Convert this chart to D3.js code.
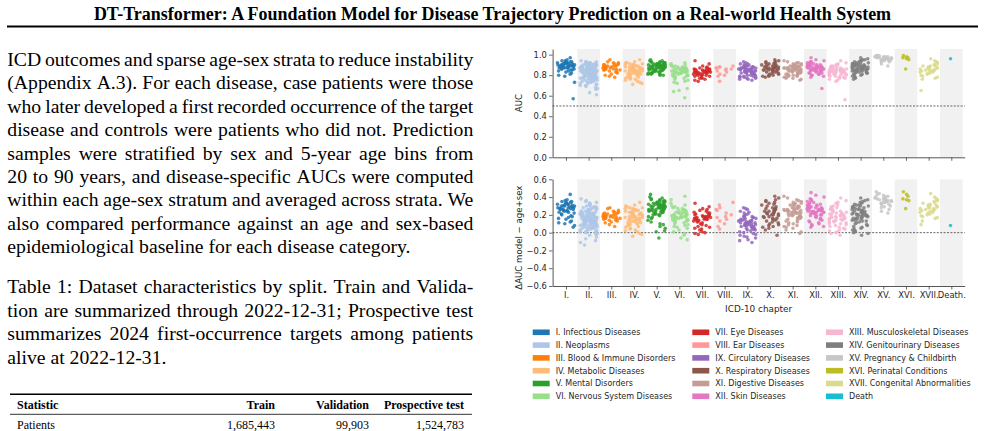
<!DOCTYPE html>
<html>
<head>
<meta charset="utf-8">
<script src="https://cdn.jsdelivr.net/npm/d3@7"></script>
<style>
  body { margin: 0; background: #fff; }
  svg { display: block; }
</style>
</head>
<body>
<div id="container"></div>
<script>
const width = 985, height = 431;

// ---- text of the page ----
const titleText = "DT-Transformer: A Foundation Model for Disease Trajectory Prediction on a Real-world Health System";
const bodyLines = [
  "ICD outcomes and sparse age-sex strata to reduce instability",
  "(Appendix A.3). For each disease, case patients were those",
  "who later developed a first recorded occurrence of the target",
  "disease and controls were patients who did not. Prediction",
  "samples were stratified by sex and 5-year age bins from",
  "20 to 90 years, and disease-specific AUCs were computed",
  "within each age-sex stratum and averaged across strata. We",
  "also compared performance against an age and sex-based",
  "epidemiological baseline for each disease category."
];
const captionLines = [
  "Table 1: Dataset characteristics by split. Train and Valida-",
  "tion are summarized through 2022-12-31; Prospective test",
  "summarizes 2024 first-occurrence targets among patients",
  "alive at 2022-12-31."
];
const tableHeader = ["Statistic", "Train", "Validation", "Prospective test"];
const tableRow = ["Patients", "1,685,443", "99,903", "1,524,783"];

// ---- chart categories ----
const chapters = ["I.","II.","III.","IV.","V.","VI.","VII.","VIII.","IX.","X.","XI.","XII.","XIII.","XIV.","XV.","XVI.","XVII.","Death."];
const chapterNames = ["I. Infectious Diseases","II. Neoplasms","III. Blood & Immune Disorders","IV. Metabolic Diseases",
  "V. Mental Disorders","VI. Nervous System Diseases","VII. Eye Diseases","VIII. Ear Diseases","IX. Circulatory Diseases",
  "X. Respiratory Diseases","XI. Digestive Diseases","XII. Skin Diseases","XIII. Musculoskeletal Diseases",
  "XIV. Genitourinary Diseases","XV. Pregnancy & Childbirth","XVI. Perinatal Conditions","XVII. Congenital Abnormalities","Death"];
const chapterColors = ["#1f77b4","#aec7e8","#ff7f0e","#ffbb78","#2ca02c","#98df8a","#d62728","#ff9896","#9467bd",
  "#8c564b","#c49c94","#e377c2","#f7b6d2","#7f7f7f","#c7c7c7","#bcbd22","#dbdb8d","#17becf"];
const aucTicks = [0, 0.2, 0.4, 0.6, 0.8, 1.0];
const deltaTicks = [-0.6, -0.4, -0.2, 0, 0.2, 0.4, 0.6];

// ---- AUC per disease, by chapter ----
const aucI = [.97,.95,.94,.94,.93,.93,.93,.92,.92,.92,.92,.91,.91,.91,.91,.91,.90,.90,.90,.90,.90,.90,.89,.89,.89,.89,.89,.88,.88,.88,.88,.88,.87,.87,.87,.87,.86,.86,.86,.85,.85,.84,.84,.83,.82,.81,.80,.79,.73,.57];
const aucII = [.94,.93,.93,.93,.92,.92,.92,.92,.91,.91,.91,.91,.90,.90,.90,.90,.90,.89,.89,.89,.89,.89,.88,.88,.88,.88,.88,.87,.87,.87,.87,.87,.87,.86,.86,.86,.86,.86,.86,.85,.85,.85,.85,.85,.85,.84,.84,.84,.84,.84,.84,.83,.83,.83,.83,.83,.83,.82,.82,.82,.82,.82,.81,.81,.81,.81,.81,.80,.80,.80,.80,.80,.79,.79,.79,.79,.78,.78,.78,.78,.77,.77,.77,.77,.76,.76,.76,.75,.75,.75,.74,.74,.74,.73,.73,.72,.72,.71,.71,.70,.70,.69,.68,.67,.66,.63,.61,.86,.85,.84,.83,.82,.81,.80,.79,.88,.87,.90,.89,.78,.77,.76,.91,.84,.83,.82,.81];
const aucIII = [.95,.93,.92,.92,.91,.91,.90,.90,.90,.89,.89,.89,.88,.88,.88,.88,.87,.87,.87,.87,.86,.86,.86,.86,.85,.85,.85,.84,.84,.83,.82,.81,.80,.79,.78];
const aucIV = [.95,.93,.92,.92,.91,.91,.90,.90,.90,.89,.89,.89,.88,.88,.88,.88,.87,.87,.87,.87,.87,.86,.86,.86,.86,.86,.85,.85,.85,.85,.85,.84,.84,.84,.84,.83,.83,.83,.83,.82,.82,.82,.81,.81,.81,.80,.80,.79,.79,.78,.78,.77,.77,.76,.76,.75,.74,.73,.72,.71];
const aucV = [.95,.94,.94,.93,.93,.93,.92,.92,.92,.92,.91,.91,.91,.91,.91,.90,.90,.90,.90,.90,.90,.89,.89,.89,.89,.89,.89,.89,.88,.88,.88,.88,.88,.88,.88,.87,.87,.87,.87,.87,.87,.86,.86,.86,.86,.86,.85,.85,.85,.85,.85,.84,.84,.84,.84,.83,.83,.83,.82,.82,.82,.81,.81,.81,.80,.80,.90,.89,.88,.87];
const aucVI = [.92,.91,.90,.90,.89,.89,.88,.88,.88,.87,.87,.87,.87,.86,.86,.86,.86,.85,.85,.85,.85,.85,.84,.84,.84,.84,.83,.83,.83,.83,.82,.82,.82,.81,.81,.80,.80,.79,.79,.78,.78,.77,.76,.75,.74,.73,.72,.67,.65,.64,.58,.84,.86,.83,.81];
const aucVII = [.94,.91,.89,.88,.87,.87,.86,.86,.86,.85,.85,.85,.85,.84,.84,.84,.84,.84,.83,.83,.83,.83,.83,.83,.82,.82,.82,.82,.82,.81,.81,.81,.81,.80,.80,.80,.79,.79,.78,.77,.77,.76,.75,.74,.85];
const aucVIII = [.89,.88,.88,.87,.87,.86,.86,.85,.84,.83,.81,.80,.79,.74];
const aucIX = [.93,.92,.91,.91,.90,.90,.89,.89,.89,.88,.88,.88,.88,.87,.87,.87,.87,.87,.86,.86,.86,.86,.86,.86,.85,.85,.85,.85,.85,.85,.84,.84,.84,.84,.84,.83,.83,.83,.83,.82,.82,.82,.82,.81,.81,.81,.80,.80,.80,.79,.79,.79,.78,.78,.78,.77,.77,.76,.76,.75];
const aucX = [.95,.94,.93,.93,.92,.92,.91,.91,.90,.90,.90,.89,.89,.89,.88,.88,.88,.88,.87,.87,.87,.87,.86,.86,.86,.86,.85,.85,.85,.84,.84,.84,.83,.83,.82,.82,.81,.81,.80,.80,.79,.79,.78,.86,.88];
const aucXI = [.94,.93,.92,.92,.91,.91,.90,.90,.90,.89,.89,.89,.89,.88,.88,.88,.88,.88,.87,.87,.87,.87,.87,.87,.86,.86,.86,.86,.86,.86,.85,.85,.85,.85,.85,.84,.84,.84,.84,.83,.83,.83,.83,.82,.82,.82,.81,.81,.81,.80,.80,.80,.79,.79,.78,.78,.77,.77,.76,.75];
const aucXII = [.97,.95,.94,.93,.93,.92,.92,.91,.91,.91,.90,.90,.90,.90,.89,.89,.89,.89,.89,.88,.88,.88,.88,.88,.88,.87,.87,.87,.87,.87,.87,.86,.86,.86,.86,.86,.85,.85,.85,.85,.85,.84,.84,.84,.84,.83,.83,.83,.82,.82,.82,.81,.81,.80,.80,.79,.78,.84,.86,.67];
const aucXIII = [.94,.92,.91,.90,.90,.89,.89,.88,.88,.88,.87,.87,.87,.87,.86,.86,.86,.86,.85,.85,.85,.85,.85,.84,.84,.84,.84,.84,.83,.83,.83,.83,.82,.82,.82,.82,.81,.81,.81,.80,.80,.80,.79,.79,.78,.78,.77,.77,.76,.75,.74,.84,.85,.83,.56];
const aucXIV = [.97,.96,.95,.95,.94,.94,.93,.93,.92,.92,.92,.91,.91,.91,.90,.90,.90,.90,.89,.89,.89,.89,.89,.88,.88,.88,.88,.88,.87,.87,.87,.87,.87,.86,.86,.86,.86,.86,.85,.85,.85,.85,.84,.84,.84,.84,.83,.83,.83,.82,.82,.82,.81,.81,.80,.80,.79,.78,.77,.76,.88,.87,.86,.85,.90];
const aucXV = [.99,.99,.99,.98,.98,.98,.98,.98,.97,.97,.97,.97,.97,.97,.97,.96,.96,.96,.96,.96,.96,.95,.95,.95,.95,.94,.94,.94,.93,.93,.91,.89];
const aucXVI = [.99,.98,.97,.97,.96,.95,.86];
const aucXVII = [.96,.94,.93,.92,.91,.90,.90,.89,.89,.88,.88,.88,.87,.87,.87,.86,.86,.86,.85,.85,.85,.84,.84,.84,.83,.83,.82,.82,.81,.80,.79,.78,.77,.76,.65];
const aucDeath = [.96];

// ---- delta AUC (model - age+sex) per disease, by chapter (bottom panel) ----
const deltaI = [.43,.37,.36,.35,.35,.34,.34,.33,.33,.32,.32,.32,.31,.31,.30,.30,.30,.30,.29,.29,.29,.28,.28,.28,.27,.27,.27,.26,.26,.26,.25,.25,.24,.24,.23,.23,.22,.21,.20,.19,.18,.17,.16,.15,.13,.12,.11,.10,.08,.06];
const deltaII = [.38,.36,.35,.34,.33,.33,.32,.31,.30,.30,.29,.29,.28,.28,.27,.27,.26,.26,.25,.25,.25,.24,.24,.23,.23,.23,.22,.22,.22,.21,.21,.21,.20,.20,.20,.20,.19,.19,.19,.19,.18,.18,.18,.18,.17,.17,.17,.17,.16,.16,.16,.16,.16,.15,.15,.15,.15,.14,.14,.14,.14,.14,.13,.13,.13,.13,.12,.12,.12,.12,.11,.11,.11,.11,.10,.10,.10,.10,.09,.09,.09,.08,.08,.08,.07,.07,.07,.06,.06,.06,.05,.05,.05,.04,.04,.03,.03,.02,.02,.01,.01,.00,.00,-.01,-.02,-.03,-.05,-.07,-.09,-.11,-.14,.18,.17,.16,.15,.20,.22,.13,.12,.11,.19,.21,.24,.14,.10,.26,.09];
const deltaIII = [.28,.27,.25,.24,.23,.23,.22,.22,.21,.21,.20,.20,.20,.19,.19,.19,.18,.18,.18,.18,.17,.17,.17,.16,.16,.16,.15,.15,.14,.14,.13,.12,.11,.09,.07];
const deltaIV = [.34,.31,.30,.29,.28,.28,.27,.27,.26,.26,.25,.25,.24,.24,.23,.23,.22,.22,.22,.21,.21,.20,.20,.20,.19,.19,.19,.18,.18,.18,.17,.17,.17,.16,.16,.15,.15,.14,.14,.13,.13,.12,.12,.11,.11,.10,.10,.09,.09,.08,.07,.06,.05,.04,.03,.02,.01,-.01,-.02,-.04];
const deltaV = [.43,.40,.39,.38,.37,.37,.36,.36,.35,.35,.34,.34,.34,.33,.33,.33,.32,.32,.32,.31,.31,.31,.31,.30,.30,.30,.30,.29,.29,.29,.29,.28,.28,.28,.28,.27,.27,.27,.26,.26,.26,.26,.25,.25,.25,.24,.24,.24,.23,.23,.23,.22,.22,.21,.21,.20,.20,.19,.18,.17,.16,.14,.12,.10,.09,.07,.05,.02,.01,-.06];
const deltaVI = [.41,.37,.33,.31,.30,.29,.28,.27,.27,.26,.25,.25,.24,.24,.23,.23,.22,.22,.21,.21,.20,.20,.20,.19,.19,.19,.18,.18,.18,.17,.17,.17,.16,.16,.15,.15,.14,.14,.13,.13,.12,.11,.10,.09,.08,.07,.06,.05,.03,.01,-.01,-.03,-.06,-.08,.22];
const deltaVII = [.33,.29,.27,.26,.25,.24,.23,.22,.22,.21,.20,.20,.19,.19,.18,.18,.18,.17,.17,.17,.16,.16,.16,.15,.15,.15,.14,.14,.13,.13,.12,.11,.10,.09,.08,.07,.06,.05,.04,.03,.01,.00,-.01,-.02,.16];
const deltaVIII = [.34,.31,.28,.26,.25,.22,.20,.18,.17,.15,.13,.10,.07,.04];
const deltaIX = [.28,.27,.26,.24,.23,.22,.21,.20,.19,.18,.18,.17,.17,.16,.16,.15,.15,.14,.14,.14,.13,.13,.13,.12,.12,.12,.11,.11,.11,.10,.10,.10,.09,.09,.09,.08,.08,.08,.07,.07,.06,.06,.05,.05,.04,.04,.03,.03,.02,.01,.00,-.01,-.02,-.03,-.04,-.05,-.06,-.08,-.09,-.11];
const deltaX = [.41,.39,.37,.36,.35,.34,.33,.32,.31,.30,.29,.28,.27,.27,.26,.25,.25,.24,.24,.23,.22,.22,.21,.20,.20,.19,.18,.18,.17,.16,.16,.15,.14,.13,.12,.11,.10,.09,.08,.07,.06,.05,.03,-.03,.21];
const deltaXI = [.41,.39,.37,.36,.35,.34,.33,.33,.32,.31,.31,.30,.30,.29,.29,.28,.28,.27,.27,.26,.26,.26,.25,.25,.25,.24,.24,.24,.23,.23,.23,.22,.22,.22,.21,.21,.20,.20,.19,.19,.18,.18,.17,.17,.16,.16,.15,.14,.13,.12,.11,.10,.09,.08,.07,.06,.05,.03,.01,-.01];
const deltaXII = [.45,.42,.40,.38,.37,.36,.35,.34,.33,.32,.32,.31,.31,.30,.30,.29,.29,.28,.28,.28,.27,.27,.27,.26,.26,.26,.25,.25,.25,.24,.24,.24,.23,.23,.23,.22,.22,.22,.21,.21,.20,.20,.19,.19,.18,.17,.16,.15,.14,.13,.12,.11,.10,.09,.08,.07,.06,.25,.23,.27];
const deltaXIII = [.39,.36,.34,.33,.31,.30,.29,.28,.27,.27,.26,.25,.25,.24,.23,.23,.22,.22,.21,.21,.20,.20,.19,.19,.18,.18,.17,.17,.16,.16,.15,.15,.14,.14,.13,.13,.12,.12,.11,.10,.10,.09,.08,.07,.06,.05,.04,.03,.02,.01,.00,-.01,-.03,.18,.16];
const deltaXIV = [.39,.37,.36,.35,.34,.33,.32,.31,.31,.30,.30,.29,.29,.28,.28,.27,.27,.26,.26,.25,.25,.24,.24,.23,.23,.23,.22,.22,.22,.21,.21,.20,.20,.19,.19,.18,.18,.17,.17,.16,.16,.15,.15,.14,.14,.13,.13,.12,.11,.10,.09,.08,.07,.06,.05,.04,.03,.02,.01,.00,-.01,-.03,.20,.19,.21];
const deltaXV = [.46,.44,.43,.42,.41,.40,.40,.39,.39,.38,.38,.37,.37,.37,.36,.36,.36,.35,.35,.35,.34,.34,.33,.33,.32,.31,.30,.29,.28,.26,.24,.22];
const deltaXVI = [.46,.43,.41,.38,.37,.36,.27];
const deltaXVII = [.44,.40,.38,.37,.36,.35,.34,.33,.32,.31,.31,.30,.30,.29,.29,.28,.28,.27,.27,.26,.26,.25,.25,.24,.23,.23,.22,.21,.20,.19,.18,.17,.16,.13,.09];
const deltaDeath = [.08];

const aucValues = [aucI,aucII,aucIII,aucIV,aucV,aucVI,aucVII,aucVIII,aucIX,aucX,aucXI,aucXII,aucXIII,aucXIV,aucXV,aucXVI,aucXVII,aucDeath];
const deltaValues = [deltaI,deltaII,deltaIII,deltaIV,deltaV,deltaVI,deltaVII,deltaVIII,deltaIX,deltaX,deltaXI,deltaXII,deltaXIII,deltaXIV,deltaXV,deltaXVI,deltaXVII,deltaDeath];

// ---- layout ----
const serif = "'Liberation Serif', 'Times New Roman', serif";
const sans = "'DejaVu Sans', sans-serif";
const plotLeft = 552.6, plotRight = 964.7;
const topPanel = {top: 49, bottom: 157.3};
const botPanel = {top: 179.3, bottom: 286};

const svg = d3.select("#container").append("svg")
  .attr("width", width).attr("height", height)
  .style("background", "#fff");

// title + rule
const title = svg.append("text")
  .attr("x", width / 2).attr("y", 19.5)
  .attr("text-anchor", "middle")
  .attr("font-family", serif).attr("font-weight", "bold")
  .attr("font-size", 17)
  .attr("fill", "#000")
  .text(titleText);
const tLen = title.node().getComputedTextLength();
title.attr("font-size", 17 * 798 / tLen);

svg.append("line")
  .attr("x1", 7).attr("x2", 978).attr("y1", 26.5).attr("y2", 26.5)
  .attr("stroke", "#000").attr("stroke-width", 2);

// justified paragraph lines
function writeLine(g, str, x, y, w, justify) {
  if (!justify) {
    g.append("text").attr("x", x).attr("y", y).text(str);
    return;
  }
  const words = str.split(" ");
  const probe = g.append("text");
  const widths = words.map(wd => { probe.text(wd); return probe.node().getComputedTextLength(); });
  probe.remove();
  const gap = (w - d3.sum(widths)) / (words.length - 1);
  let cx = x;
  words.forEach((wd, k) => {
    g.append("text").attr("x", cx).attr("y", y).text(wd);
    cx += widths[k] + gap;
  });
}

const body = svg.append("g")
  .attr("font-family", serif).attr("font-size", 19.7).attr("fill", "#000");
bodyLines.forEach((ln, i) => writeLine(body, ln, 7.3, 66 + i * 23.4, 466, i < bodyLines.length - 1));
captionLines.forEach((ln, i) => writeLine(body, ln, 7.3, 293.3 + i * 23.4, 466, i < captionLines.length - 1));

// table
const table = svg.append("g").attr("font-family", serif).attr("font-size", 12).attr("fill", "#000");
const colX = [17, 275, 369, 464];
table.append("line").attr("x1", 10).attr("x2", 472).attr("y1", 394.3).attr("y2", 394.3)
  .attr("stroke", "#000").attr("stroke-width", 1.4);
table.append("line").attr("x1", 10).attr("x2", 472).attr("y1", 414.3).attr("y2", 414.3)
  .attr("stroke", "#000").attr("stroke-width", 0.8);
tableHeader.forEach((h, i) => table.append("text")
  .attr("x", colX[i]).attr("y", 409.3)
  .attr("text-anchor", i === 0 ? "start" : "end")
  .attr("font-weight", "bold").text(h));
tableRow.forEach((h, i) => table.append("text")
  .attr("x", colX[i]).attr("y", 429)
  .attr("text-anchor", i === 0 ? "start" : "end").text(h));

// ---- chart ----
const xScale = d3.scaleLinear().domain([-0.59, 17.59]).range([plotLeft, plotRight]);
const yAuc = d3.scaleLinear().domain([0, 1.055]).range([topPanel.bottom, topPanel.top]);
const yDelta = d3.scaleLinear().domain([-0.6, 0.6]).range([botPanel.bottom, botPanel.top]);

// deterministic horizontal jitter for the strip plot
function jitter(c, i) {
  const s = Math.sin((i + 1) * 12.9898 + (c + 1) * 78.233) * 43758.5453;
  return (s - Math.floor(s) - 0.5) * 0.78;
}

function drawPanel(panel, yScale, values, ticks, refValue, showLabels) {
  const g = svg.append("g");

  g.selectAll("rect.band")
    .data(chapters.filter((d, i) => i % 2 === 1))
    .join("rect")
    .attr("class", "band")
    .attr("x", d => xScale(chapters.indexOf(d) - 0.5))
    .attr("width", d => xScale(chapters.indexOf(d) + 0.5) - xScale(chapters.indexOf(d) - 0.5))
    .attr("y", panel.top)
    .attr("height", panel.bottom - panel.top)
    .attr("fill", "#f1f1f1");

  g.append("line")
    .attr("x1", plotLeft).attr("x2", plotRight)
    .attr("y1", yScale(refValue)).attr("y2", yScale(refValue))
    .attr("stroke", "#555").attr("stroke-width", 0.9)
    .attr("stroke-dasharray", "2,1.4");

  const pts = values.flatMap((arr, c) => arr.map((v, i) => ({c, v, i})));
  g.selectAll("circle.dot")
    .data(pts)
    .join("circle")
    .attr("class", "dot")
    .attr("cx", d => xScale(d.c + jitter(d.c, d.i)))
    .attr("cy", d => yScale(d.v))
    .attr("r", 1.8)
    .attr("fill", d => chapterColors[d.c])
    .attr("fill-opacity", 0.85);

  const yAxis = d3.axisLeft(yScale)
    .tickValues(ticks)
    .tickSize(3.5).tickSizeOuter(0).tickPadding(2.2)
    .tickFormat(d3.format(".1f"));
  const xAxis = d3.axisBottom(xScale)
    .tickValues(d3.range(chapters.length))
    .tickSize(3.5).tickSizeOuter(0).tickPadding(2.5)
    .tickFormat(i => showLabels ? chapters[i] : "");

  const ya = g.append("g").attr("transform", `translate(${plotLeft},0)`).call(yAxis);
  const xa = g.append("g").attr("transform", `translate(0,${panel.bottom})`).call(xAxis);
  [ya, xa].forEach(a => {
    a.selectAll("path.domain").attr("stroke", "#444").attr("stroke-width", 0.9);
    a.selectAll(".tick line").attr("stroke", "#444").attr("stroke-width", 0.8);
    a.selectAll(".tick text").attr("font-family", sans).attr("font-size", 8.4).attr("fill", "#262626");
  });
  return g;
}

drawPanel(topPanel, yAuc, aucValues, aucTicks, 0.5, false);
drawPanel(botPanel, yDelta, deltaValues, deltaTicks, 0, true);

// axis titles
svg.append("text")
  .attr("transform", `translate(522,${(topPanel.top + topPanel.bottom) / 2 + 0}) rotate(-90)`)
  .attr("text-anchor", "middle")
  .attr("font-family", sans).attr("font-size", 8.6).attr("fill", "#262626")
  .text("AUC");
svg.append("text")
  .attr("transform", `translate(522,${(botPanel.top + botPanel.bottom) / 2 + 5}) rotate(-90)`)
  .attr("text-anchor", "middle")
  .attr("font-family", sans).attr("font-size", 8.6).attr("fill", "#262626")
  .text("ΔAUC  model − age+sex");
svg.append("text")
  .attr("x", (plotLeft + plotRight) / 2).attr("y", 311.5)
  .attr("text-anchor", "middle")
  .attr("font-family", sans).attr("font-size", 8.9).attr("fill", "#262626")
  .text("ICD-10 chapter");

// legend: 3 columns x 6 rows
const legendColX = [532.7, 692.3, 826];
const legend = svg.append("g").attr("font-family", sans).attr("font-size", 8).attr("fill", "#262626");
const items = legend.selectAll("g.item")
  .data(chapterNames)
  .join("g")
  .attr("class", "item")
  .attr("transform", (d, i) => `translate(${legendColX[Math.floor(i / 6)]},${332.3 + (i % 6) * 12.8})`);
items.append("rect")
  .attr("x", 0).attr("y", -2.8).attr("width", 17).attr("height", 5.6)
  .attr("fill", (d, i) => chapterColors[i]);
items.append("text")
  .attr("x", 23).attr("y", 2.9)
  .text(d => d);
</script>
</body>
</html>
